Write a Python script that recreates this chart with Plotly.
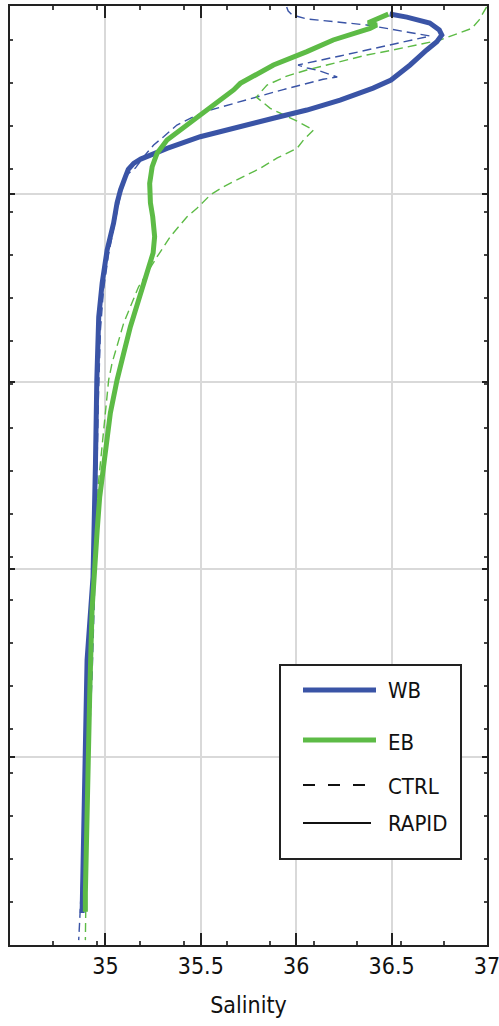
import plotly.graph_objects as go

# ---------------- data (salinity, depth in m) ----------------
wb_rapid_sal = [36.49, 36.58, 36.70, 36.75, 36.763, 36.737, 36.684, 36.597, 36.497, 36.403,
                36.230, 36.056, 35.880, 35.707, 35.497, 35.323, 35.236, 35.185, 35.148, 35.120,
                35.105, 35.090, 35.079, 35.061, 35.043, 35.009, 34.983, 34.965, 34.958, 34.955,
                34.948, 34.935, 34.904, 34.895, 34.886, 34.878]
wb_rapid_depth = [43, 59, 91, 128, 154, 190, 234, 314, 394, 437,
                  501, 554, 598, 643, 696, 758, 793, 815, 838, 870,
                  909, 945, 980, 1049, 1156, 1299, 1475, 1656, 1832, 1992,
                  2434, 3041, 3483, 4015, 4548, 4830]

eb_rapid_sal = [36.483, 36.403, 36.377, 36.422, 36.387, 36.194, 36.056, 35.881, 35.707, 35.672,
                35.497, 35.410, 35.323, 35.271, 35.245, 35.232, 35.236, 35.248, 35.258, 35.250,
                35.218, 35.174, 35.131, 35.096, 35.061, 35.026, 34.991, 34.970, 34.957, 34.948,
                34.939, 34.930, 34.918, 34.904, 34.895, 34.895]
eb_rapid_depth = [43, 75, 89, 101, 119, 181, 243, 314, 412, 447,
                  580, 643, 714, 784, 856, 944, 1049, 1122, 1228, 1315,
                  1422, 1566, 1708, 1848, 1992, 2167, 2434, 2615, 2790, 2966,
                  3110, 3216, 3658, 4191, 4723, 4823]

wb_ctrl_sal = [35.950, 35.958, 35.979, 36.056, 36.370, 36.702, 36.230, 36.010, 36.058, 36.110,
               36.215, 36.141, 35.932, 35.794, 35.672, 35.550, 35.462, 35.375, 35.305, 35.253,
               35.201, 35.157, 35.110, 35.079, 35.047, 35.016, 34.990, 34.974, 34.963, 34.953,
               34.942, 34.930, 34.913, 34.904, 34.886, 34.878, 34.869, 34.860]
wb_ctrl_depth = [5, 27, 48, 69, 101, 160, 266, 314, 330, 341,
                 378, 390, 445, 483, 518, 554, 589, 634, 696, 740,
                 802, 863, 900, 1006, 1166, 1326, 1512, 1725, 2098, 2631,
                 3163, 3571, 3925, 4191, 4457, 4637, 4849, 4974]

eb_ctrl_sal = [36.998, 36.958, 36.920, 36.754, 36.509, 36.370, 36.161, 36.056, 35.951, 35.847,
               35.791, 35.864, 35.916, 36.010, 36.091, 36.038, 36.004, 35.901, 35.812, 35.707,
               35.619, 35.550, 35.480, 35.428, 35.340, 35.271, 35.218, 35.174, 35.131, 35.096,
               35.070, 35.035, 35.017, 35.000, 34.983, 34.965, 34.948, 34.939, 34.927, 34.911,
               34.901, 34.895]
eb_ctrl_depth = [5, 75, 119, 181, 234, 261, 314, 341, 373, 421,
                 485, 545, 571, 616, 660, 714, 758, 809, 864, 917,
                 962, 1006, 1077, 1122, 1228, 1335, 1422, 1495, 1601, 1688,
                 1779, 1901, 1992, 2167, 2347, 2524, 2790, 2966, 3429, 3962,
                 4494, 4974]

x_ticks = [35, 35.5, 36, 36.5, 37]
x_ticktext = ["35", "35.5", "36", "36.5", "37"]
y_ticks = [1000, 2000, 3000, 4000]
legend_labels = ["WB", "EB", "CTRL", "RAPID"]

X_RANGE = [34.5, 37]
Y_RANGE = [5000, 0]
x_minor = [34.5 + k * 0.2275 for k in range(1, 11)]
y_minor = [5000 - k * 229.6 for k in range(1, 22)]

BLUE = "#3A54A6"
GREEN = "#5DBB46"
FONT = "DejaVu Sans Condensed, Liberation Sans Narrow, Roboto, sans-serif"

fig = go.Figure()
fig.add_trace(go.Scatter(x=wb_ctrl_sal, y=wb_ctrl_depth, mode="lines",
                         line=dict(color=BLUE, width=1.4, dash="9px,5px"), showlegend=False))
fig.add_trace(go.Scatter(x=eb_ctrl_sal, y=eb_ctrl_depth, mode="lines",
                         line=dict(color=GREEN, width=1.4, dash="9px,5px"), showlegend=False))
fig.add_trace(go.Scatter(x=wb_rapid_sal, y=wb_rapid_depth, mode="lines",
                         line=dict(color=BLUE, width=5), showlegend=False))
fig.add_trace(go.Scatter(x=eb_rapid_sal, y=eb_rapid_depth, mode="lines",
                         line=dict(color=GREEN, width=5), showlegend=False))
# empty traces that bring up the mirrored (top / right) tick axes
fig.add_trace(go.Scatter(x=[None], y=[None], xaxis="x2", yaxis="y", showlegend=False, hoverinfo="skip"))
fig.add_trace(go.Scatter(x=[None], y=[None], xaxis="x", yaxis="y2", showlegend=False, hoverinfo="skip"))

# ---------------- manual legend ----------------
W, H = 499, 1026
L, R, T, B = 10, 12, 6, 81
pw, ph = W - L - R, H - T - B


def px(x):
    return (x - L) / pw


def py(y):
    return (H - B - y) / ph


shapes = [dict(type="rect", xref="paper", yref="paper", x0=px(280), x1=px(461), y0=py(859), y1=py(665),
               line=dict(color="#222222", width=2), fillcolor="white", layer="above")]
leg_styles = [(BLUE, 5, "solid", 690, 376), (GREEN, 5, "solid", 740, 376),
              ("#111111", 2, "12px,13px", 785, 367), ("#111111", 2, "solid", 823, 371)]
for color, wdt, dash, yy, xe in leg_styles:
    shapes.append(dict(type="line", xref="paper", yref="paper", x0=px(303), x1=px(xe), y0=py(yy), y1=py(yy),
                       line=dict(color=color, width=wdt, dash=dash), layer="above"))
annotations = []
for lab, yy in zip(legend_labels, [690, 742, 786, 823]):
    annotations.append(dict(text=lab, xref="paper", yref="paper", x=px(386), y=py(yy), xanchor="left",
                            yanchor="middle", showarrow=False, font=dict(family=FONT, size=22, color="#111111")))

fig.update_layout(
    width=W, height=H,
    margin=dict(l=L, r=R, t=T, b=B, autoexpand=False),
    paper_bgcolor="white", plot_bgcolor="white",
    font=dict(family=FONT, size=22, color="#111111"),
    shapes=shapes, annotations=annotations,
    showlegend=False,
    xaxis=dict(range=X_RANGE, tickvals=x_ticks, ticktext=x_ticktext, ticklabeloverflow="allow",
               automargin=False,
               showgrid=True, gridcolor="#D9D9D9", gridwidth=1.5,
               showline=True, linecolor="#222222", linewidth=1.5, mirror=True,
               ticks="inside", ticklen=12, tickcolor="#222222", tickwidth=1.5,
               minor=dict(tickvals=x_minor, ticks="inside", ticklen=4, tickcolor="#444444", showgrid=False),
               zeroline=False, tickfont=dict(size=23),
               title=dict(text="Salinity", font=dict(size=23), standoff=19)),
    yaxis=dict(range=Y_RANGE, tickvals=y_ticks, showticklabels=False, automargin=False,
               showgrid=True, gridcolor="#D9D9D9", gridwidth=1.5,
               showline=True, linecolor="#222222", linewidth=1.5, mirror=True,
               ticks="inside", ticklen=5, tickcolor="#222222", tickwidth=1.5,
               minor=dict(tickvals=y_minor, ticks="inside", ticklen=3, tickcolor="#444444", showgrid=False),
               zeroline=False),
    xaxis2=dict(range=X_RANGE, overlaying="x", side="top", anchor="y", tickvals=x_ticks, showticklabels=False,
                automargin=False, showgrid=False, showline=False, zeroline=False,
                ticks="inside", ticklen=12, tickcolor="#222222", tickwidth=1.5,
                minor=dict(tickvals=x_minor, ticks="inside", ticklen=4, tickcolor="#444444", showgrid=False)),
    yaxis2=dict(range=Y_RANGE, overlaying="y", side="right", anchor="x", tickvals=y_ticks, showticklabels=False,
                automargin=False, showgrid=False, showline=False, zeroline=False,
                ticks="inside", ticklen=5, tickcolor="#222222", tickwidth=1.5,
                minor=dict(tickvals=y_minor, ticks="inside", ticklen=3, tickcolor="#444444", showgrid=False)),
)

fig.write_html("out.html", config={"displayModeBar": False},
               post_script="document.body.style.margin='0';document.body.style.overflow='hidden';")
